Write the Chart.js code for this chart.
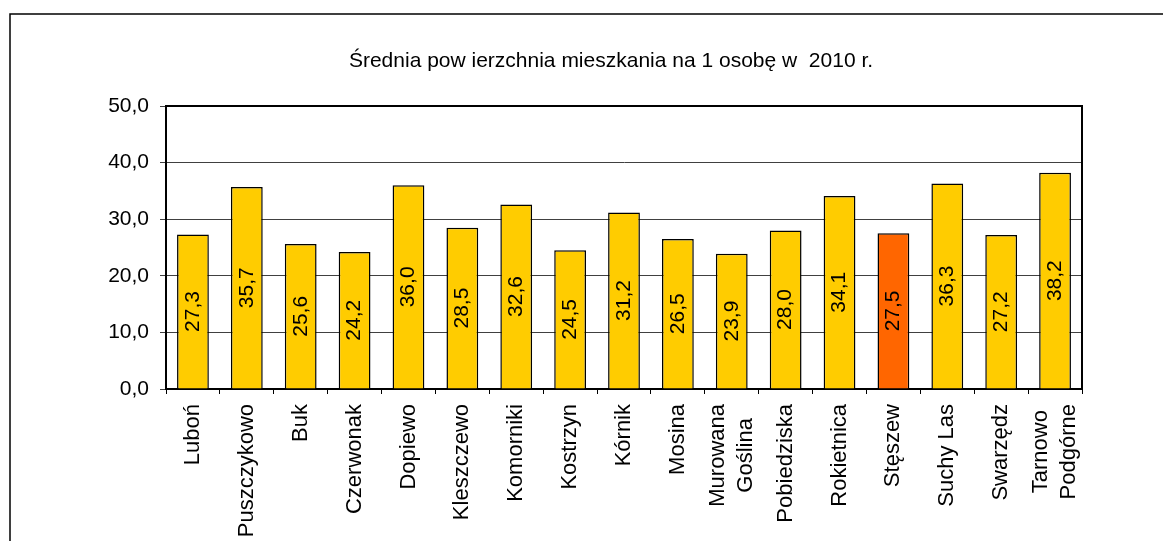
<!DOCTYPE html>
<html>
<head>
<meta charset="utf-8">
<script src="https://cdn.jsdelivr.net/npm/chart.js@4.4.0/dist/chart.umd.min.js"></script>
<style>
  html, body { margin: 0; padding: 0; background: #fff; }
</style>
</head>
<body>
<canvas id="areaChart" width="1163" height="541"></canvas>
<script>
const gminy = ['Luboń', 'Puszczykowo', 'Buk', 'Czerwonak', 'Dopiewo', 'Kleszczewo', 'Komorniki', 'Kostrzyn', 'Kórnik', 'Mosina', ['Murowana', 'Goślina'], 'Pobiedziska', 'Rokietnica', 'Stęszew', 'Suchy Las', 'Swarzędz', ['Tarnowo', 'Podgórne']];
const powierzchnia = [27.3, 35.7, 25.6, 24.2, 36.0, 28.5, 32.6, 24.5, 31.2, 26.5, 23.9, 28.0, 34.1, 27.5, 36.3, 27.2, 38.2];
const wyrozniona = 'Stęszew';
const yTicks = [0, 10, 20, 30, 40, 50];
const tytul = 'Średnia pow ierzchnia mieszkania na 1 osobę w  2010 r.';

const FONT = "'Liberation Sans', Arial, sans-serif";
const fmt = v => v.toFixed(1).replace('.', ',');
const kolory = gminy.map(g => g === wyrozniona ? '#FF6600' : '#FFCC00');

// ramka wykresu, obramowanie obszaru, etykiety wartosci i nazwy gmin
const dekoracje = {
  id: 'dekoracje',
  afterLayout(chart) {
    // tytul wysrodkowany nad obszarem wykresu, nie nad cala ramka
    if (chart.titleBlock) chart.titleBlock.left = 140;
  },
  beforeDraw(chart) {
    const ctx = chart.ctx;
    ctx.save();
    ctx.fillStyle = '#fff';
    ctx.fillRect(0, 0, chart.width, chart.height);
    ctx.strokeStyle = '#000';
    ctx.lineWidth = 1.5;
    ctx.strokeRect(10, 14, 1400, 800);
    ctx.restore();
  },
  afterDatasetsDraw(chart) {
    const ctx = chart.ctx;
    const a = chart.chartArea;
    ctx.save();
    ctx.strokeStyle = '#000';
    ctx.lineWidth = 2;
    ctx.beginPath();
    ctx.moveTo(a.left, a.top);
    ctx.lineTo(a.right, a.top);
    ctx.lineTo(a.right, a.bottom);
    ctx.stroke();

    ctx.fillStyle = '#000';
    ctx.font = '21px ' + FONT;
    ctx.textAlign = 'center';
    ctx.textBaseline = 'middle';
    chart.getDatasetMeta(0).data.forEach((bar, i) => {
      ctx.save();
      ctx.translate(bar.x, (bar.y + bar.base) / 2);
      ctx.rotate(-Math.PI / 2);
      ctx.fillText(fmt(powierzchnia[i]), 0, 0);
      ctx.restore();
    });

    // podpisy osi X: obrocone, linie wysrodkowane na kategorii
    const xs = chart.scales.x;
    ctx.font = '22px ' + FONT;
    gminy.forEach((g, i) => {
      const lines = Array.isArray(g) ? g : [g];
      const w = Math.max(...lines.map(l => ctx.measureText(l).width));
      ctx.save();
      ctx.translate(xs.getPixelForValue(i), a.bottom + 15 + w / 2);
      ctx.rotate(-Math.PI / 2);
      lines.forEach((l, j) => ctx.fillText(l, 0, (j - (lines.length - 1) / 2) * 28));
      ctx.restore();
    });
    ctx.restore();
  }
};

new Chart(document.getElementById('areaChart'), {
  type: 'bar',
  data: {
    labels: gminy,
    datasets: [{
      data: powierzchnia,
      backgroundColor: kolory,
      borderColor: '#000',
      borderWidth: 1.5,
      barPercentage: 0.59,
      categoryPercentage: 1
    }]
  },
  options: {
    responsive: false,
    animation: false,
    layout: { padding: { left: 0, right: 81, top: 0, bottom: 0 } },
    plugins: {
      legend: { display: false },
      tooltip: { enabled: false },
      title: {
        display: true,
        text: tytul,
        color: '#000',
        font: { family: FONT, size: 21, weight: 'normal', lineHeight: 1.2 },
        padding: { top: 49, bottom: 31.8 }
      }
    },
    scales: {
      x: {
        offset: true,
        grid: { display: true, drawOnChartArea: false, drawTicks: true, tickLength: 5, offset: true, color: '#000' },
        border: { display: true, color: '#000', width: 2 },
        ticks: { display: false, autoSkip: false },
        afterFit(scale) { scale.height = 152; }
      },
      y: {
        min: 0,
        max: 50,
        afterBuildTicks(scale) { scale.ticks = yTicks.map(v => ({ value: v })); },
        grid: { color: '#404040', lineWidth: 1, tickLength: 6 },
        border: { display: true, color: '#000', width: 2 },
        ticks: {
          color: '#000',
          padding: 11,
          font: { family: FONT, size: 21 },
          callback: v => fmt(v)
        },
        afterFit(scale) { scale.width = 166; }
      }
    }
  },
  plugins: [dekoracje]
});
</script>
</body>
</html>
